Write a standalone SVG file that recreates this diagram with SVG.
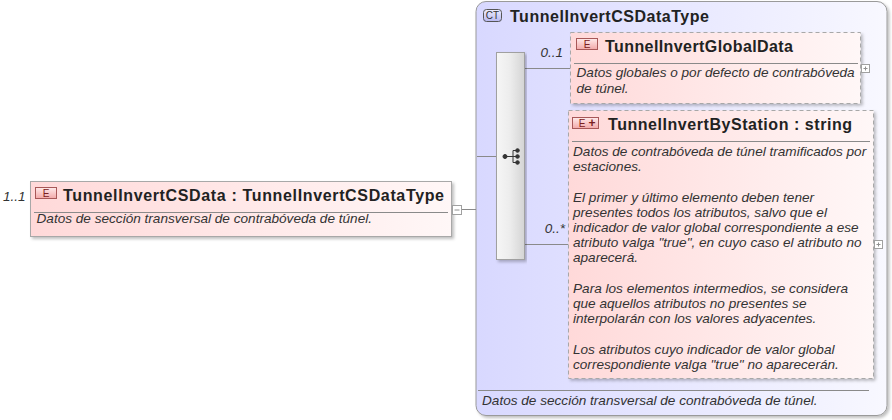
<svg xmlns="http://www.w3.org/2000/svg" width="892" height="420" viewBox="0 0 892 420">
<defs>
<linearGradient id="gEl" x1="0" y1="0" x2="1" y2="0">
<stop offset="0" stop-color="#ffd9d9"/>
<stop offset="1" stop-color="#fff7f7"/>
</linearGradient>
<linearGradient id="gCt" x1="0" y1="0" x2="1" y2="0">
<stop offset="0" stop-color="#d8d8ff"/>
<stop offset="1" stop-color="#f8f8ff"/>
</linearGradient>
<linearGradient id="gSeq" x1="0" y1="0" x2="1" y2="0">
<stop offset="0" stop-color="#f6f6f6"/>
<stop offset="0.5" stop-color="#ececec"/>
<stop offset="1" stop-color="#d4d4d4"/>
</linearGradient>
<linearGradient id="gIcon" x1="0" y1="0" x2="0" y2="1">
<stop offset="0" stop-color="#ffeaea"/>
<stop offset="1" stop-color="#f2a8a8"/>
</linearGradient>
<linearGradient id="gCtIcon" x1="0" y1="0" x2="0" y2="1">
<stop offset="0" stop-color="#eeeeff"/>
<stop offset="1" stop-color="#b8b8f0"/>
</linearGradient>
<filter id="sh" x="-5%" y="-5%" width="112%" height="115%">
<feDropShadow dx="2" dy="2" stdDeviation="1.5" flood-color="#000" flood-opacity="0.25"/>
</filter>
</defs>
<style>
.title{font-family:"Liberation Sans",Arial,sans-serif;font-weight:bold;font-size:16px;fill:#222}
.desc{font-family:"Liberation Sans",Arial,sans-serif;font-style:italic;font-size:13.6px;fill:#333}
.card{font-family:"Liberation Sans",Arial,sans-serif;font-style:italic;font-size:13.5px;fill:#333}
.sep{stroke:#8a8a8a;stroke-width:1}
.elbox{fill:url(#gEl);stroke:#a8a8a8;stroke-width:1}
.dashed{fill:url(#gEl);stroke:#a8a8a8;stroke-width:1;stroke-dasharray:4,3}
.icon{fill:url(#gIcon);stroke:#a85858;stroke-width:1}
.icontext{font-family:"Liberation Sans",Arial,sans-serif;font-size:10px;fill:#7a2020}
.conn{stroke:#8a8a8a;stroke-width:1;fill:none}
.pm{fill:#fff;stroke:#a0a0a0;stroke-width:1}
.pmline{stroke:#909090;stroke-width:1}
</style>

<g id="node-complexType">
<rect x="476" y="1.5" width="411" height="414" rx="10" ry="10" fill="url(#gCt)" stroke="#9a9a9a" filter="url(#sh)"/>
<rect x="483.5" y="9.5" width="18" height="12" rx="3" ry="3" fill="url(#gCtIcon)" stroke="#555"/>
<text x="492.5" y="19" text-anchor="middle" style="font-family:'Liberation Sans',Arial,sans-serif;font-size:10px;fill:#333">CT</text>
<text class="title" x="510" y="22" textLength="199" lengthAdjust="spacing">TunnelInvertCSDataType</text>
<line class="sep" x1="478" y1="390.5" x2="869" y2="390.5"/>
<text class="desc" x="482" y="405">Datos de sección transversal de contrabóveda de túnel.</text>
</g>

<g id="connectors">
<line class="conn" x1="462" y1="209.5" x2="476" y2="209.5"/>
<line class="conn" x1="477" y1="156.5" x2="496" y2="156.5"/>
<line class="conn" x1="525" y1="68.5" x2="570" y2="68.5"/>
<line class="conn" x1="525" y1="244.5" x2="568" y2="244.5"/>
</g>

<g id="node-root">
<text class="card" x="3" y="200.5">1..1</text>
<rect class="elbox" x="30.5" y="181.5" width="421" height="55" filter="url(#sh)"/>
<rect class="icon" x="35.5" y="187.5" width="21" height="11"/>
<text class="icontext" x="46" y="196.5" text-anchor="middle">E</text>
<text class="title" x="63" y="201" textLength="381" lengthAdjust="spacing">TunnelInvertCSData : TunnelInvertCSDataType</text>
<line class="sep" x1="34" y1="212.5" x2="448" y2="212.5"/>
<text class="desc" x="36.5" y="222.5">Datos de sección transversal de contrabóveda de túnel.</text>
<rect class="pm" x="452.5" y="205.5" width="9" height="9"/>
<line class="pmline" x1="454.5" y1="210" x2="459.5" y2="210"/>
</g>

<g id="node-sequence">
<rect x="496.5" y="52.5" width="28" height="207" fill="url(#gSeq)" stroke="#a0a0a0" filter="url(#sh)"/>
<g fill="#333" stroke="#333" stroke-width="1">
<circle cx="505" cy="156.5" r="2"/>
<line x1="505" y1="156.5" x2="513" y2="156.5"/>
<line x1="513" y1="150.5" x2="513" y2="162.5"/>
<line x1="513" y1="150.5" x2="517" y2="150.5"/>
<line x1="513" y1="156.5" x2="517" y2="156.5"/>
<line x1="513" y1="162.5" x2="517" y2="162.5"/>
<circle cx="517.5" cy="150.5" r="1.8"/>
<circle cx="517.5" cy="156.5" r="1.8"/>
<circle cx="517.5" cy="162.5" r="1.8"/>
</g>
</g>

<g id="node-globalData">
<text class="card" x="563" y="57" text-anchor="end">0..1</text>
<rect class="dashed" x="570.5" y="32.5" width="290" height="71" filter="url(#sh)"/>
<rect class="icon" x="576.5" y="38.5" width="21" height="11"/>
<text class="icontext" x="587" y="47.5" text-anchor="middle">E</text>
<text class="title" x="605" y="52" textLength="188" lengthAdjust="spacing">TunnelInvertGlobalData</text>
<line class="sep" x1="574" y1="63.5" x2="858" y2="63.5"/>
<text class="desc" x="576.5" y="77">Datos globales o por defecto de contrabóveda</text>
<text class="desc" x="576.5" y="92.5">de túnel.</text>
<rect class="pm" x="861.5" y="64.5" width="8" height="8"/>
<line class="pmline" x1="863.5" y1="68.5" x2="867.5" y2="68.5"/>
<line class="pmline" x1="865.5" y1="66.5" x2="865.5" y2="70.5"/>
</g>

<g id="node-byStation">
<text class="card" x="565" y="233" text-anchor="end">0..*</text>
<rect class="dashed" x="568.5" y="110.5" width="305" height="268" filter="url(#sh)"/>
<rect class="icon" x="572.5" y="117.5" width="26" height="11"/>
<text class="icontext" x="582" y="126.5" text-anchor="middle">E</text>
<text x="592" y="127" text-anchor="middle" style="font-family:'Liberation Sans',Arial,sans-serif;font-size:12px;font-weight:bold;fill:#7a2020">+</text>
<text class="title" x="608" y="130" textLength="244" lengthAdjust="spacing">TunnelInvertByStation : string</text>
<line class="sep" x1="572" y1="141.5" x2="870" y2="141.5"/>
<text class="desc" x="573">
<tspan x="573" y="156">Datos de contrabóveda de túnel tramificados por</tspan>
<tspan x="573" y="171.2">estaciones.</tspan>
<tspan x="573" y="201.6">El primer y último elemento deben tener</tspan>
<tspan x="573" y="216.8">presentes todos los atributos, salvo que el</tspan>
<tspan x="573" y="232">indicador de valor global correspondiente a ese</tspan>
<tspan x="573" y="247.2">atributo valga "true", en cuyo caso el atributo no</tspan>
<tspan x="573" y="262.4">aparecerá.</tspan>
<tspan x="573" y="292.8">Para los elementos intermedios, se considera</tspan>
<tspan x="573" y="308">que aquellos atributos no presentes se</tspan>
<tspan x="573" y="323.2">interpolarán con los valores adyacentes.</tspan>
<tspan x="573" y="353.6">Los atributos cuyo indicador de valor global</tspan>
<tspan x="573" y="368.8">correspondiente valga "true" no aparecerán.</tspan>
</text>
<rect class="pm" x="874.5" y="240.5" width="8" height="8"/>
<line class="pmline" x1="876.5" y1="244.5" x2="880.5" y2="244.5"/>
<line class="pmline" x1="878.5" y1="242.5" x2="878.5" y2="246.5"/>
</g>
</svg>
